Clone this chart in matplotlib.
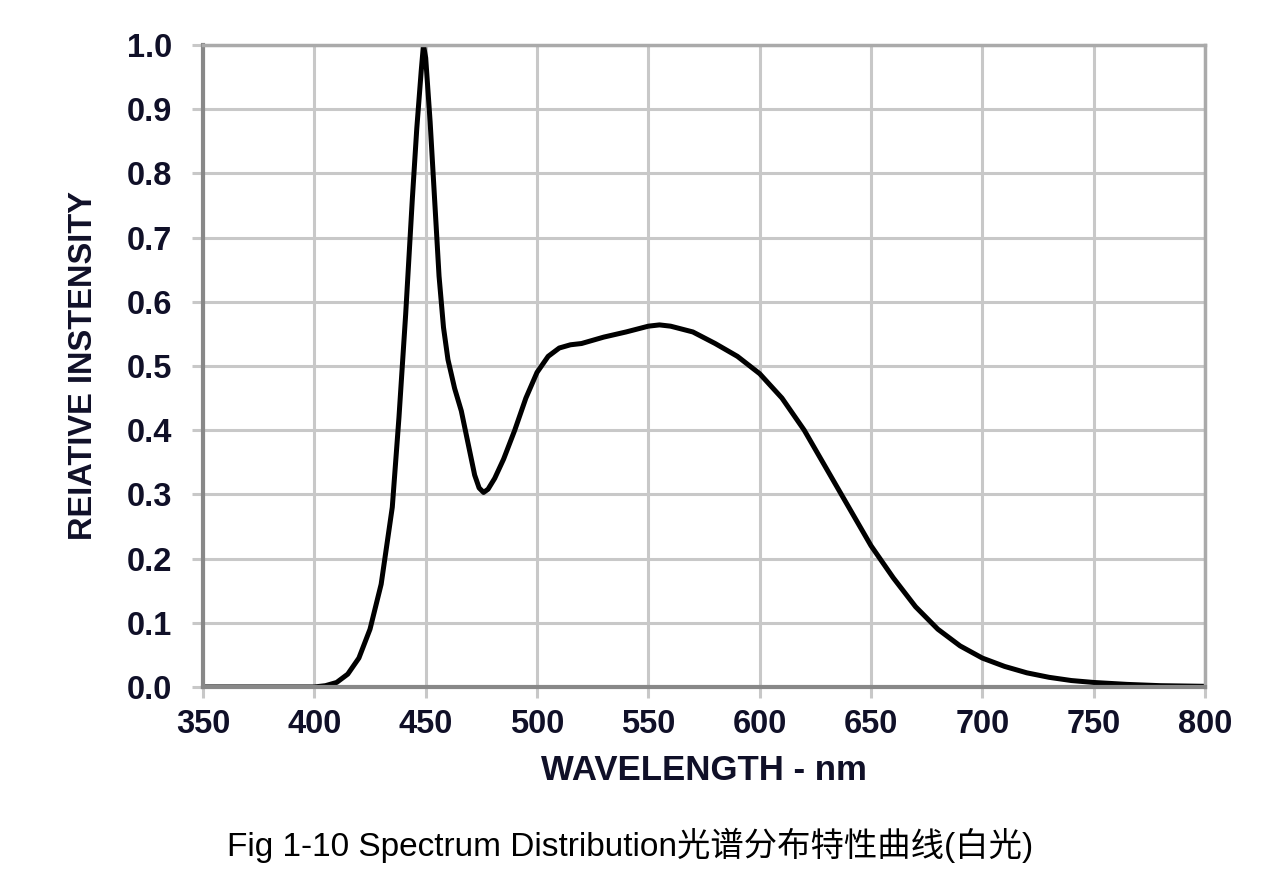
import numpy as np
import matplotlib.pyplot as plt
import matplotlib.ticker as ticker

# spectrum
wavelength = [350, 380, 400, 405, 410, 415, 420, 425, 430, 435, 438, 441, 444, 446,
              448, 449, 450, 452, 454, 456, 458, 460, 463, 466, 469, 472, 474, 476,
              478, 481, 485, 490, 495, 500, 505, 510, 515, 520, 525, 530, 540, 550,
              555, 560, 570, 580, 590, 600, 610, 620, 630, 640, 650, 660, 670, 680,
              690, 700, 710, 720, 730, 740, 750, 765, 780, 800]
intensity = [0.0, 0.0, 0.0, 0.002, 0.007, 0.02, 0.045, 0.09, 0.16, 0.28, 0.42, 0.58,
             0.76, 0.87, 0.96, 1.0, 0.98, 0.88, 0.76, 0.64, 0.56, 0.51, 0.465, 0.43,
             0.38, 0.33, 0.31, 0.303, 0.308, 0.325, 0.355, 0.40, 0.45, 0.49, 0.515,
             0.528, 0.533, 0.535, 0.54, 0.545, 0.553, 0.562, 0.564, 0.562, 0.553,
             0.535, 0.515, 0.488, 0.45, 0.40, 0.34, 0.28, 0.22, 0.17, 0.125, 0.09,
             0.064, 0.045, 0.032, 0.022, 0.015, 0.01, 0.007, 0.004, 0.002, 0.001]

xticks = np.arange(350, 801, 50)
yticks = np.round(np.arange(0, 1.01, 0.1), 1)

txt = '#101028'
fig = plt.figure(figsize=(12.61, 8.91), dpi=100)
ax = fig.add_axes([0.161, 0.229, 0.7946, 0.7205])

ax.plot(wavelength, intensity, color='black', linewidth=3.6,
        solid_capstyle='round', solid_joinstyle='round')

ax.set_xlim(350, 800)
ax.set_ylim(0, 1.0)
ax.xaxis.set_major_locator(ticker.FixedLocator(xticks))
ax.yaxis.set_major_locator(ticker.FixedLocator(yticks))
ax.yaxis.set_major_formatter(ticker.FormatStrFormatter('%.1f'))
ax.grid(which='major', color='#c8c8c8', linewidth=2.2)
ax.set_axisbelow(True)

for side in ['left', 'bottom']:
    ax.spines[side].set_color('#888888')
    ax.spines[side].set_linewidth(3)
for side in ['top', 'right']:
    ax.spines[side].set_color('#aaaaaa')
    ax.spines[side].set_linewidth(2.5)

ax.tick_params(axis='both', length=8, width=2.2, color='#c8c8c8', labelcolor=txt,
               labelsize=23.5)
ax.tick_params(axis='y', pad=14)
ax.tick_params(axis='x', pad=8)
for lab in ax.get_xticklabels() + ax.get_yticklabels():
    lab.set_fontweight('bold')
    lab.set_family('Liberation Sans')

ax.set_xlabel('WAVELENGTH - nm', fontsize=25, fontweight='bold', color=txt,
              family='Liberation Sans', labelpad=10)
ax.set_ylabel('REIATIVE INSTENSITY', fontsize=23.5, fontweight='bold', color=txt,
              family='Liberation Sans', labelpad=20)

fig.text(0.5, 0.051, 'Fig 1-10 Spectrum Distribution光谱分布特性曲线(白光)',
         ha='center', va='center', fontsize=24, color='black',
         family=['Liberation Sans', 'Noto Sans CJK SC'])

fig.savefig('out.png', dpi=100)
